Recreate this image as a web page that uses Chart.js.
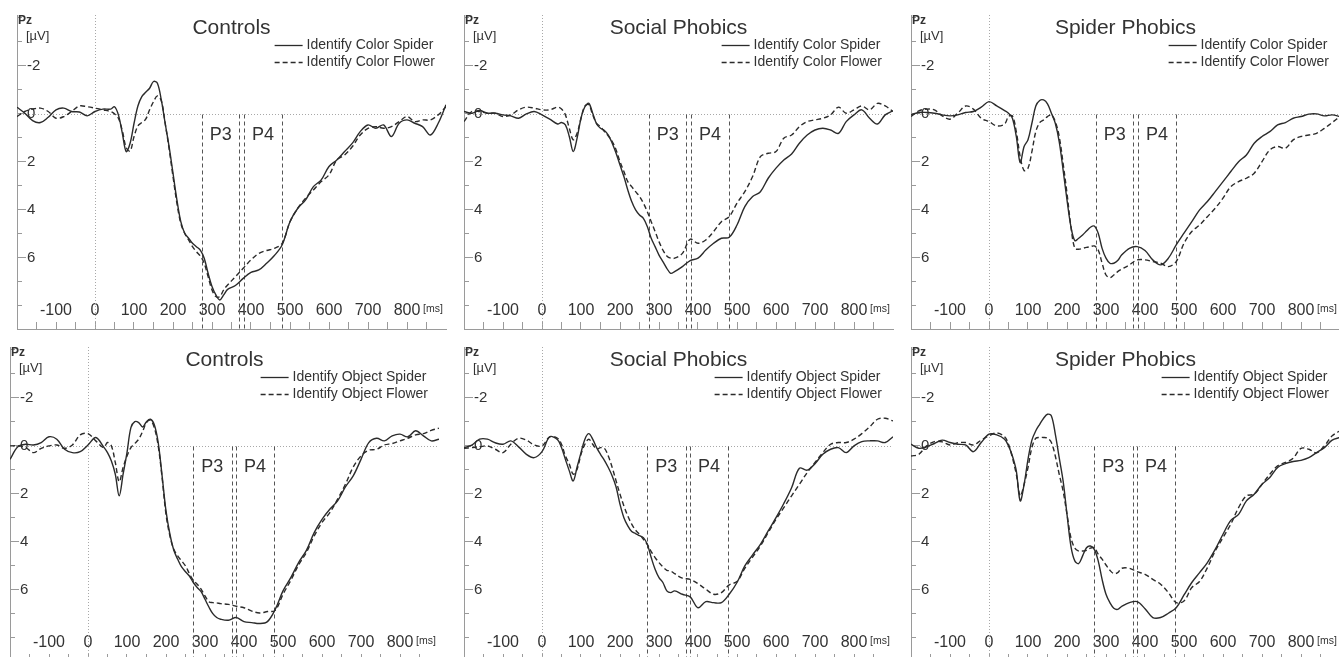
<!DOCTYPE html>
<html>
<head>
<meta charset="utf-8">
<script src="https://cdn.jsdelivr.net/npm/chart.js@4.4.1/dist/chart.umd.min.js"></script>
<style>
  html, body { margin: 0; padding: 0; background: #fff; width: 1339px; height: 657px; overflow: hidden; }
  canvas { position: absolute; }
</style>
</head>
<body>
<script>
// ── Data (µV at Pz, positive values plotted downward) ──
const times = [-200,-180,-160,-140,-120,-100,-80,-60,-40,-20,0,20,40,
  50,60,70,80,90,100,110,120,130,140,150,160,170,180,190,200,210,220,230,240,250,260,270,280,290,300,310,320,330,340,
  360,380,400,420,440,460,480,500,520,540,560,580,600,620,640,660,680,700,720,740,760,780,800,820,840,860,880,900];

// Identify Color — Controls
const colorSpiderCtrl = [-0.28,-0.03,0.28,0.36,0.14,-0.17,-0.24,-0.1,-0.08,0.08,-0.1,-0.2,-0.2,
  -0.3,0.04,0.8,1.57,1.22,0.4,-0.33,-0.72,-0.9,-1.07,-1.35,-1.28,-0.58,0.4,1.36,2.47,3.58,4.49,4.97,5.18,5.39,5.53,5.67,6.01,6.64,7.19,7.54,7.75,7.54,7.31,
  7.15,6.85,6.6,6.5,6.22,5.9,5.45,4.49,3.93,3.58,3.03,2.75,2.19,1.92,1.57,1.22,0.74,0.46,0.6,0.46,0.94,0.39,0.25,0.39,0.53,0.88,0.39,-0.38];
const colorFlowerCtrl = [0.11,-0.1,-0.2,-0.24,-0.1,0.18,0.11,-0.1,-0.33,-0.3,-0.24,-0.17,-0.1,
  0,0.18,0.7,1.4,1.55,0.95,0.5,0.36,0.22,-0.17,-0.51,-0.75,-0.55,0.4,1.45,2.61,3.72,4.56,4.97,5.25,5.53,5.74,5.92,6.22,6.78,7.33,7.61,7.61,7.33,7.13,
  6.78,6.43,6.08,5.81,5.69,5.6,5.39,4.49,3.93,3.51,3.17,2.82,2.54,1.92,1.71,1.36,0.88,0.6,0.53,0.6,0.53,0.32,0.11,0.32,0.25,0.25,0.04,-0.3];

// Identify Color — Social Phobics
const colorSpiderSoc = [-0.1,-0.03,-0.14,-0.03,-0.03,0.04,0.08,0.18,0,-0.1,0.04,0.22,0.42,
  0.36,0.46,0.94,1.57,1.01,0.18,-0.3,-0.44,-0.03,0.42,0.6,0.69,0.88,1.22,1.64,2.13,2.61,3.17,3.65,4.0,4.21,4.35,4.69,5.18,5.53,5.88,6.15,6.43,6.64,6.57,
  6.36,6.11,6.01,5.67,5.39,5.18,5.14,4.63,3.86,3.44,3.24,2.68,2.26,1.92,1.67,1.22,0.88,0.67,0.6,0.67,0.81,0.32,0.04,-0.17,0.18,0.42,0.04,-0.13];
const colorFlowerSoc = [0.32,-0.1,-0.1,-0.03,-0.03,0.11,0.04,-0.17,-0.28,-0.24,-0.17,-0.17,-0.28,
  -0.2,0.04,0.6,1.08,0.81,0.18,-0.33,-0.38,0.04,0.39,0.53,0.74,0.92,1.15,1.5,1.99,2.4,2.82,3.03,3.24,3.44,3.72,4.07,4.49,4.9,5.32,5.67,5.92,6.01,6.01,
  5.81,5.22,5.39,5.25,4.9,4.49,4.28,3.72,3.24,2.61,1.78,1.64,1.57,1.01,0.88,0.53,0.32,0.25,0.18,0.04,-0.28,-0.03,-0.17,-0.33,-0.17,-0.44,-0.33,-0.1];

// Identify Color — Spider Phobics
const colorSpiderSpi = [0.04,-0.06,-0.06,-0.03,0.04,0.08,0.04,-0.06,-0.1,-0.28,-0.51,-0.33,-0.14,
  -0.03,0.18,0.94,2.03,1.36,1.08,0.39,-0.33,-0.56,-0.58,-0.42,-0.03,0.39,1.15,2.33,3.58,4.69,5.28,5.18,5.04,4.88,4.72,4.67,4.97,5.6,6.01,6.22,6.22,6.11,5.88,
  5.6,5.53,5.69,6.08,6.29,6.01,5.46,4.97,4.49,4.0,3.65,3.24,2.82,2.4,1.99,1.71,1.22,0.94,0.74,0.46,0.36,0.18,0.11,0.01,0,0.08,0.04,0.11];
const colorFlowerSpi = [0.11,-0.13,-0.2,-0.17,0.08,0.22,-0.03,-0.33,-0.2,0.18,0.32,0.5,0.42,
  0.11,0.08,0.74,1.78,2.36,2.26,1.57,0.74,0.36,0.25,0.11,0.04,0.32,0.94,2.06,3.31,4.69,5.6,5.64,5.6,5.56,5.53,5.5,5.67,6.22,6.71,6.82,6.71,6.57,6.47,
  6.29,6.08,6.08,6.15,6.22,6.36,6.15,5.39,4.9,4.63,4.28,3.93,3.51,3.03,2.82,2.68,2.47,1.99,1.5,1.36,1.43,1.08,0.94,0.88,0.81,0.6,0.36,0.11];

// Identify Object — Controls
const objectSpiderCtrl = [0.56,0.04,-0.07,-0.04,-0.14,-0.38,-0.28,0.14,0.28,0.24,-0.04,-0.35,0.04,
  0.28,0.63,1.18,2.08,1.18,0.28,-0.76,-1.01,-0.97,-0.79,-1.01,-1.11,-0.88,-0.14,1.25,2.71,3.68,4.35,4.72,5.04,5.24,5.42,5.69,5.9,6.07,6.39,6.71,6.99,7.15,7.22,
  7.26,7.15,7.32,7.36,7.4,7.32,6.81,6.04,5.49,4.86,4.35,3.61,3.06,2.64,2.29,1.71,1.25,0.56,-0.14,-0.32,-0.21,-0.42,-0.49,-0.38,-0.63,-0.42,-0.21,-0.28];
const objectFlowerCtrl = [0,0,0.07,0.28,0.1,0,-0.04,0.1,-0.04,-0.46,-0.51,-0.21,0.07,
  -0.14,0,0.69,1.49,0.9,0.42,0.07,-0.1,-0.28,-0.6,-0.97,-1.07,-0.76,0,1.32,2.85,3.75,4.31,4.58,4.79,5.0,5.32,5.6,5.76,5.97,6.25,6.49,6.53,6.54,6.57,
  6.6,6.68,6.74,6.88,6.96,6.9,6.85,6.18,5.6,4.96,4.44,3.75,3.19,2.78,2.22,1.6,0.88,0.42,0.18,0.14,-0.04,-0.1,-0.21,-0.32,-0.46,-0.51,-0.65,-0.74];

// Identify Object — Social Phobics
const objectSpiderSoc = [0.07,-0.03,-0.28,-0.28,-0.13,-0.07,-0.21,0.04,0.35,0.49,0.24,-0.38,-0.26,
  0.07,0.56,1.04,1.46,0.88,0.28,-0.28,-0.51,-0.28,0.07,0.35,0.6,0.9,1.25,1.71,2.43,2.99,3.33,3.57,3.65,3.74,3.82,4.1,4.65,5.14,5.49,5.69,6.04,6.11,6.04,
  6.18,6.29,6.74,6.49,6.53,6.53,6.18,5.69,5.0,4.54,4.1,3.54,2.99,2.4,1.74,0.93,1.01,0.74,0.35,0.14,0.07,0.28,0,-0.18,-0.21,-0.21,-0.14,-0.38];
const objectFlowerSoc = [0.1,0.07,0.04,0,0.14,0.28,-0.07,-0.32,-0.24,-0.04,0,-0.38,-0.32,
  -0.07,0.42,0.76,1.18,0.97,0.35,-0.07,-0.28,-0.07,0.14,0.07,0.1,0.42,0.9,1.46,2.01,2.5,2.92,3.26,3.51,3.68,3.89,4.1,4.4,4.65,4.86,5.04,5.18,5.21,5.32,
  5.51,5.56,5.74,5.97,6.18,6.11,5.79,5.65,5.1,4.63,4.17,3.61,3.06,2.57,2.08,1.6,1.11,0.69,0.28,-0.07,-0.14,-0.14,-0.28,-0.51,-0.79,-1.11,-1.15,-1.04];

// Identify Object — Spider Phobics
const objectSpiderSpi = [-0.07,0.1,0.04,-0.1,-0.24,-0.14,-0.07,-0.04,0.24,-0.14,-0.49,-0.46,-0.28,
  0,0.42,1.04,2.29,1.6,0.56,-0.24,-0.63,-0.9,-1.15,-1.32,-1.25,-0.49,0.49,1.46,2.85,4.17,4.79,4.9,4.58,4.24,4.17,4.31,4.79,5.56,6.18,6.53,6.76,6.81,6.69,
  6.53,6.49,6.78,7.15,7.15,6.97,6.74,6.21,5.69,5.28,4.86,4.31,3.68,3.1,2.85,2.29,2.01,1.6,1.32,0.9,0.74,0.65,0.6,0.49,0.28,0.07,-0.24,-0.35];
const objectFlowerSpi = [0.42,0.35,0,-0.18,-0.17,-0.04,-0.13,-0.14,-0.04,-0.24,-0.42,-0.54,-0.38,
  -0.07,0.49,1.18,2.08,1.6,0.9,0.07,-0.32,-0.35,-0.35,-0.32,-0.14,0.42,1.18,1.88,2.85,3.82,4.26,4.38,4.38,4.35,4.26,4.24,4.51,4.72,4.96,5.18,5.32,5.28,5.1,
  5.1,5.24,5.35,5.56,5.76,6.11,6.53,6.46,5.9,5.65,5.07,4.38,3.82,3.26,2.57,2.08,2.01,1.6,1.18,0.83,0.69,0.51,0.1,0.14,0.29,0,-0.42,-0.63];

const panelTitles  = ['Controls', 'Social Phobics', 'Spider Phobics', 'Controls', 'Social Phobics', 'Spider Phobics'];
const spiderLabels = ['Identify Color Spider', 'Identify Color Spider', 'Identify Color Spider',
                      'Identify Object Spider', 'Identify Object Spider', 'Identify Object Spider'];
const flowerLabels = ['Identify Color Flower', 'Identify Color Flower', 'Identify Color Flower',
                      'Identify Object Flower', 'Identify Object Flower', 'Identify Object Flower'];
const spiderSeries = [colorSpiderCtrl, colorSpiderSoc, colorSpiderSpi, objectSpiderCtrl, objectSpiderSoc, objectSpiderSpi];
const flowerSeries = [colorFlowerCtrl, colorFlowerSoc, colorFlowerSpi, objectFlowerCtrl, objectFlowerSoc, objectFlowerSpi];

// P3 / P4 analysis windows (ms)
const windowsColor  = [275, 370, 382, 480];
const windowsObject = [268, 369, 379, 478];
const windowLabels  = ['P3', 'P4'];

// Axis ticks
const yLabelTicks = [-2, 0, 2, 4, 6];
const yMinorTicks = [-4,-3.5,-3,-2.5,-2,-1.5,-1,-0.5,0,0.5,1,1.5,2,2.5,3,3.5,4,4.5,5,5.5,6,6.5,7,7.5,8,8.5];
const xTicks      = [-150,-100,-50,0,50,100,150,200,250,300,350,400,450,500,550,600,650,700,750,800,850];

// ── Layout ──
const FONT = '"Liberation Sans", Arial, Helvetica, sans-serif';
const AREA_W = 429, AREA_H = 314, PAD = 4;
const X_MIN = -200, X_MAX = 900, Y_MIN = -4.12, Y_MAX = 8.96;
const boxes = [
    { left: 17,  top: 15 },  { left: 464, top: 15 },  { left: 911, top: 15 },
    { left: 10,  top: 347 }, { left: 464, top: 347 }, { left: 911, top: 347 },
];
const INK = '#2b2b2b', AXIS = '#9a9a9a';
Chart.defaults.font.family = FONT;

// scales take no room: labels and tick marks are drawn inside the plot
const flatten = s => {
    if (s.isHorizontal()) s.height = 0; else s.width = 0;
    s.paddingLeft = s.paddingRight = s.paddingTop = s.paddingBottom = 0;
};

function strokeLine(ctx, x1, y1, x2, y2) {
    ctx.beginPath(); ctx.moveTo(x1, y1); ctx.lineTo(x2, y2); ctx.stroke();
}

function decorPlugin(i) {
    const wins = i < 3 ? windowsColor : windowsObject;
    return {
        id: 'decor' + i,
        beforeDatasetsDraw(chart) {
            const { ctx, chartArea: a, scales: { x, y } } = chart;
            ctx.save();
            ctx.lineWidth = 1;
            // zero lines
            ctx.strokeStyle = '#a8a8a8'; ctx.setLineDash([1, 2]);
            const y0 = Math.round(y.getPixelForValue(0)) + 0.5;
            const x0 = Math.round(x.getPixelForValue(0)) + 0.5;
            strokeLine(ctx, a.left, y0, a.right, y0);
            strokeLine(ctx, x0, a.top, x0, a.bottom);
            // analysis windows
            ctx.strokeStyle = '#555'; ctx.setLineDash([4, 3]);
            wins.forEach(t => {
                const px = Math.round(x.getPixelForValue(t)) + 0.5;
                strokeLine(ctx, px, y0, px, a.bottom);
            });
            ctx.setLineDash([]);
            ctx.fillStyle = '#333'; ctx.font = '18px ' + FONT;
            ctx.textAlign = 'center'; ctx.textBaseline = 'middle';
            const ly = y.getPixelForValue(0.9);
            windowLabels.forEach((lab, k) => {
                const cx = (x.getPixelForValue(wins[2 * k]) + x.getPixelForValue(wins[2 * k + 1])) / 2;
                ctx.fillText(lab, cx, ly);
            });
            ctx.restore();
        },
        afterDraw(chart) {
            const { ctx, chartArea: a, scales: { x } } = chart;
            ctx.save();
            ctx.fillStyle = '#333';
            ctx.textBaseline = 'middle';
            // title
            ctx.font = '21px ' + FONT; ctx.textAlign = 'center';
            ctx.fillText(panelTitles[i], (a.left + a.right) / 2, a.top + 13);
            // channel / unit
            ctx.textAlign = 'left';
            ctx.font = 'bold 12px ' + FONT;
            ctx.fillText('Pz', a.left + 1, a.top + 6);
            ctx.font = '13px ' + FONT;
            ctx.fillText('[µV]', a.left + 9, a.top + 21);
            // ms unit after the 800 label
            ctx.font = '10.5px ' + FONT;
            ctx.fillText('[ms]', x.getPixelForValue(800) + 16, a.bottom - 20);
            // legend
            ctx.font = '14px ' + FONT;
            const w = Math.max(ctx.measureText(spiderLabels[i]).width, ctx.measureText(flowerLabels[i]).width);
            const tx = a.right - 11 - w;
            const r1 = a.top + 30, r2 = a.top + 47;
            ctx.fillText(spiderLabels[i], tx, r1);
            ctx.fillText(flowerLabels[i], tx, r2);
            ctx.strokeStyle = INK; ctx.lineWidth = 1.3;
            strokeLine(ctx, tx - 32, Math.round(r1) + 0.5, tx - 4, Math.round(r1) + 0.5);
            ctx.setLineDash([5, 3]);
            strokeLine(ctx, tx - 32, Math.round(r2) + 0.5, tx - 4, Math.round(r2) + 0.5);
            ctx.restore();
        }
    };
}

boxes.forEach((b, i) => {
    const cv = document.createElement('canvas');
    cv.width = AREA_W + 2 * PAD;
    cv.height = AREA_H + 2 * PAD;
    cv.style.left = (b.left - PAD) + 'px';
    cv.style.top = (b.top - PAD) + 'px';
    document.body.appendChild(cv);

    const toPts = vals => times.map((t, k) => ({ x: t, y: vals[k] }));

    new Chart(cv.getContext('2d'), {
        type: 'line',
        data: {
            datasets: [
                {
                    label: spiderLabels[i], data: toPts(spiderSeries[i]),
                    xAxisID: 'x', yAxisID: 'y',
                    borderColor: INK, borderWidth: 1.4, pointRadius: 0, tension: 0.35, fill: false,
                },
                {
                    label: flowerLabels[i], data: toPts(flowerSeries[i]),
                    xAxisID: 'x', yAxisID: 'y',
                    borderColor: INK, borderWidth: 1.4, borderDash: [5, 3], pointRadius: 0, tension: 0.35, fill: false,
                },
            ],
        },
        options: {
            responsive: false, animation: false, events: [],
            layout: { padding: PAD },
            plugins: { legend: { display: false }, tooltip: { enabled: false } },
            scales: {
                x: {
                    type: 'linear', position: 'bottom', min: X_MIN, max: X_MAX,
                    afterBuildTicks: s => { s.ticks = xTicks.map(v => ({ value: v })); },
                    afterFit: flatten,
                    ticks: {
                        autoSkip: false, maxRotation: 0, minRotation: 0, mirror: true, padding: 9,
                        color: '#333', font: { size: 16 },
                        callback: v => (v % 100 === 0 && v >= -100 && v <= 800) ? String(v) : '',
                    },
                    grid: { drawOnChartArea: false, drawTicks: true, tickLength: -7, tickColor: AXIS },
                    border: { display: true, color: AXIS, width: 1 },
                },
                y: {
                    type: 'linear', position: 'left', reverse: true, min: Y_MIN, max: Y_MAX,
                    afterBuildTicks: s => { s.ticks = yLabelTicks.map(v => ({ value: v })); },
                    afterFit: flatten,
                    ticks: { mirror: true, padding: 10, color: '#333', font: { size: 15 }, callback: v => String(v) },
                    grid: { drawOnChartArea: false, drawTicks: true, tickLength: -9, tickColor: AXIS },
                    border: { display: true, color: AXIS, width: 1 },
                },
                y2: {
                    type: 'linear', position: 'left', reverse: true, min: Y_MIN, max: Y_MAX, display: true,
                    afterBuildTicks: s => { s.ticks = yMinorTicks.map(v => ({ value: v })); },
                    afterFit: flatten,
                    ticks: { mirror: true, padding: 0, callback: () => '' },
                    grid: { drawOnChartArea: false, drawTicks: true, tickLength: -5, tickColor: AXIS },
                    border: { display: false },
                },
            },
        },
        plugins: [decorPlugin(i)],
    });
});
</script>
</body>
</html>
